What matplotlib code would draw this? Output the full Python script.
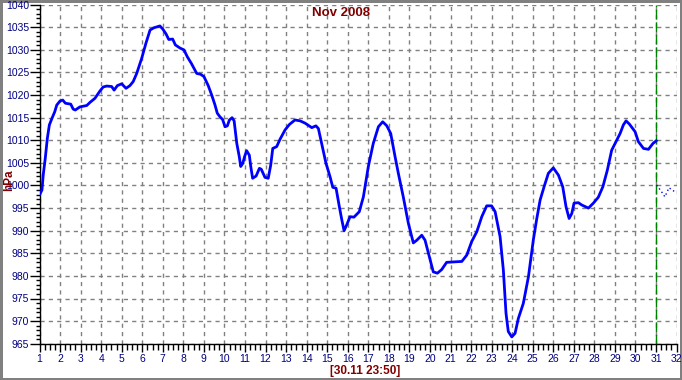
import matplotlib
matplotlib.use('Agg')
import matplotlib.pyplot as plt
from matplotlib.ticker import MultipleLocator

# pressure readings, Nov 2008 (day of month, hPa)
days = [1.02, 1.12, 1.18, 1.28, 1.38, 1.48, 1.61, 1.74, 1.84, 2.0, 2.13, 2.26, 2.52, 2.64,
        2.74, 2.97, 3.30, 3.46, 3.70, 3.94, 4.10, 4.27, 4.51, 4.63, 4.79, 5.0, 5.21, 5.40,
        5.56, 5.73, 5.97, 6.18, 6.38, 6.57, 6.86, 7.0, 7.16, 7.29, 7.48, 7.61, 7.84, 8.03,
        8.19, 8.39, 8.65, 8.84, 9.0, 9.21, 9.38, 9.54, 9.65, 9.78, 9.91, 10.03, 10.14, 10.24,
        10.37, 10.47, 10.60, 10.72, 10.79, 10.89, 10.98, 11.08, 11.21, 11.28, 11.37, 11.54,
        11.70, 11.79, 11.97, 12.13, 12.25, 12.35, 12.54, 12.70, 12.95, 13.16, 13.43, 13.68,
        13.92, 14.25, 14.45, 14.57, 14.73, 14.94, 15.14, 15.27, 15.43, 15.59, 15.71, 15.82,
        15.95, 16.11, 16.30, 16.56, 16.76, 17.0, 17.24, 17.49, 17.70, 17.90, 18.09, 18.30,
        18.46, 18.70, 18.95, 19.19, 19.36, 19.60, 19.76, 19.97, 20.16, 20.36, 20.57, 20.81,
        21.14, 21.55, 21.79, 22.03, 22.28, 22.52, 22.76, 23.0, 23.17, 23.41, 23.57, 23.70,
        23.81, 23.98, 24.14, 24.30, 24.54, 24.79, 25.03, 25.19, 25.36, 25.55, 25.76, 26.0,
        26.25, 26.46, 26.62, 26.77, 26.90, 27.01, 27.22, 27.38, 27.71, 27.95, 28.19, 28.41,
        28.63, 28.84, 29.05, 29.25, 29.41, 29.54, 29.70, 29.98, 30.14, 30.39, 30.63, 30.85,
        31.01]
pressure = [998.1, 999.0, 1002.3, 1006.0, 1010.4, 1013.4, 1014.9, 1016.3, 1017.8, 1018.7,
            1018.9, 1018.2, 1018.0, 1016.9, 1016.7, 1017.4, 1017.7, 1018.4, 1019.3, 1020.9,
            1021.8, 1022.0, 1021.9, 1021.1, 1022.1, 1022.5, 1021.5, 1022.1, 1023.0, 1024.8,
            1028.1, 1031.5, 1034.4, 1034.9, 1035.3, 1034.6, 1033.5, 1032.3, 1032.4, 1031.1,
            1030.4, 1030.0, 1028.5, 1027.0, 1024.8, 1024.6, 1024.1, 1022.1, 1020.0, 1017.8,
            1016.0, 1015.2, 1014.6, 1013.0, 1013.2, 1014.5, 1015.0, 1014.3, 1009.3, 1006.4,
            1004.2, 1004.9, 1006.4, 1007.7, 1006.7, 1004.2, 1001.6, 1002.1, 1003.8, 1003.6,
            1001.8, 1001.6, 1004.5, 1008.2, 1008.6, 1010.2, 1012.3, 1013.5, 1014.5, 1014.3,
            1013.8, 1012.8, 1013.2, 1012.6, 1009.3, 1004.9, 1001.9, 999.6, 999.4, 995.3,
            992.4, 990.0, 991.3, 993.1, 993.0, 994.2, 997.5, 1004.2, 1009.3, 1013.0, 1014.1,
            1013.2, 1011.5, 1006.4, 1002.7, 997.5, 991.6, 987.3, 987.9, 989.0, 987.9, 984.2,
            980.9, 980.6, 981.4, 983.0, 983.1, 983.2, 984.6, 987.6, 989.8, 993.1, 995.5,
            995.5, 994.2, 988.7, 981.3, 971.7, 967.7, 966.5, 967.3, 970.6, 973.9, 979.8,
            988.0, 992.5, 996.8, 999.7, 1002.7, 1003.9, 1002.3, 999.7, 995.3, 992.7, 993.8,
            996.1, 996.2, 995.7, 995.0, 996.1, 997.4, 999.7, 1003.4, 1007.8, 1009.7, 1011.5,
            1013.4, 1014.3, 1013.6, 1011.9, 1009.7, 1008.2, 1008.0, 1009.3, 1009.9]

# small dotted tail after the current time marker
tail_days = [31.03, 31.27, 31.43, 31.63, 31.92]
tail_pressure = [1000.1, 998.6, 997.5, 999.5, 998.6]

now_day = 31
title = 'Nov 2008'
stamp = '[30.11 23:50]'

plt.rcParams['font.family'] = ['Liberation Sans', 'DejaVu Sans']
dark_red = '#800000'
navy = '#000080'

fig = plt.figure(figsize=(6.82, 3.80), dpi=100)
fig.patch.set_facecolor('white')
fig.patch.set_edgecolor('#808080')
fig.patch.set_linewidth(2.5)

ax = fig.add_axes([39.5 / 682, 36.3 / 380, 637.1 / 682, 339.0 / 380])
ax.plot(days, pressure, color='#0000ff', lw=2.0, zorder=3)
ax.plot(tail_days, tail_pressure, color='#0000ff', lw=1.0, ls=(0, (1, 2)), zorder=3)
ax.axvline(now_day, color='#008000', lw=1.0, ls=(0, (7, 2)), zorder=2)

ax.set_xlim(1, 32)
ax.set_ylim(965, 1040)
ax.xaxis.set_major_locator(MultipleLocator(1))
ax.xaxis.set_minor_locator(MultipleLocator(0.25))
ax.yaxis.set_major_locator(MultipleLocator(5))
ax.yaxis.set_minor_locator(MultipleLocator(1))

ax.grid(True, which='major', color='#808080', ls=(0, (3, 3)), lw=1.0)
for s in ['top', 'right']:
    ax.spines[s].set_visible(False)
for s in ['left', 'bottom']:
    ax.spines[s].set_color('black')
    ax.spines[s].set_linewidth(1.0)

ax.tick_params(axis='y', which='major', length=7, width=1, direction='out', pad=0.5,
               labelsize=7.5, labelcolor=navy)
ax.tick_params(axis='y', which='minor', length=3, width=1, direction='out')
ax.tick_params(axis='x', which='major', length=6, width=1, direction='out', pad=1.5,
               labelsize=7.5, labelcolor=navy)
ax.tick_params(axis='x', which='minor', length=4, width=1, direction='out')

fig.text(341 / 682, 1 - 13 / 380, title, color=dark_red, fontsize=9.5,
         fontweight='bold', ha='center', va='center')
fig.text(9 / 682, 1 - 180 / 380, 'hPa', color=dark_red, fontsize=8.5,
         fontweight='bold', rotation=90, ha='center', va='center')
fig.text(365 / 682, 1 - 371 / 380, stamp, color=dark_red, fontsize=8.5,
         fontweight='bold', ha='center', va='center')

fig.savefig('out.png', dpi=100, facecolor=fig.get_facecolor(),
            edgecolor=fig.get_edgecolor())
